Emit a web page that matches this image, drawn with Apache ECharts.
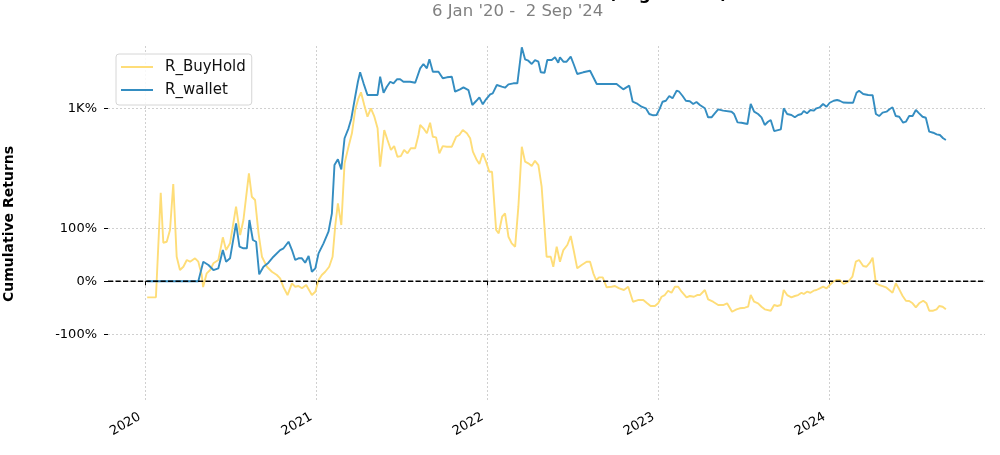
<!DOCTYPE html>
<html><head><meta charset="utf-8">
<script src="https://cdn.jsdelivr.net/npm/echarts@6/dist/echarts.min.js"></script>
<style>html,body{margin:0;padding:0;background:#fff}#c{width:1000px;height:455px}</style>
</head><body><div id="c"></div>
<script>
const titleText = 'Cumulative Returns vs Benchmark (Log Scaled)';
const subtitleText = "6 Jan '20 -  2 Sep '24";
const yAxisName = 'Cumulative Returns';
const yTickPct = [-100, 0, 100, 1000];
const yTickLabels = ['-100%', '0%', '100%', '1K%'];
const yRangePct = [-285, 4534];
const xTickYears = [2020, 2021, 2022, 2023, 2024];
const xRangeYears = [2019.784, 2024.905];
const seriesNames = ['R_BuyHold', 'R_wallet'];

const walletYears = [2020.013,2020.311,2020.340,2020.370,2020.399,2020.428,2020.454,2020.473,2020.496,2020.531,2020.551,2020.574,2020.594,2020.609,2020.629,2020.648,2020.666,2020.691,2020.720,2020.749,2020.788,2020.808,2020.837,2020.857,2020.876,2020.895,2020.915,2020.934,2020.954,2020.973,2020.993,
2021.012,2021.041,2021.070,2021.090,2021.105,2021.125,2021.145,2021.164,2021.187,2021.203,2021.226,2021.242,2021.255,2021.275,2021.298,2021.324,2021.357,2021.372,2021.392,2021.411,2021.431,2021.450,2021.470,2021.489,2021.508,2021.547,2021.577,2021.606,2021.625,2021.645,2021.660,2021.680,2021.713,2021.738,2021.762,2021.791,2021.810,2021.839,2021.859,2021.888,2021.911,2021.933,2021.952,2021.972,2021.991,
2022.015,2022.030,2022.054,2022.083,2022.102,2022.122,2022.151,2022.174,2022.200,2022.219,2022.238,2022.258,2022.277,2022.297,2022.311,2022.333,2022.349,2022.375,2022.394,2022.413,2022.423,2022.443,2022.462,2022.486,2022.505,2022.524,2022.559,2022.599,2022.638,2022.715,2022.754,2022.774,2022.793,2022.828,2022.848,2022.871,2022.900,2022.925,2022.945,2022.968,2022.988,
2023.007,2023.023,2023.042,2023.062,2023.081,2023.105,2023.120,2023.140,2023.159,2023.182,2023.202,2023.221,2023.241,2023.270,2023.289,2023.309,2023.328,2023.348,2023.377,2023.426,2023.441,2023.461,2023.484,2023.519,2023.538,2023.558,2023.581,2023.601,2023.620,2023.639,2023.655,2023.675,2023.714,2023.731,2023.751,2023.776,2023.796,2023.815,2023.835,2023.848,2023.867,2023.887,2023.906,2023.922,2023.942,2023.961,2023.981,
2024.000,2024.023,2024.043,2024.058,2024.078,2024.107,2024.136,2024.156,2024.171,2024.195,2024.224,2024.250,2024.269,2024.288,2024.308,2024.331,2024.350,2024.366,2024.385,2024.405,2024.428,2024.444,2024.463,2024.483,2024.502,2024.521,2024.541,2024.560,2024.580,2024.603,2024.623,2024.642,2024.661,2024.677];
const walletPct = [0,0,37,30.8,21.3,24.5,59,37,43.4,109.4,65.3,62.3,62.3,115.7,77.9,74.7,13.2,27.5,35.1,46.4,59,62.3,74.7,59,40.2,43.4,43.4,35.1,47.7,18.1,24.5,
52.8,71.7,93.6,128.3,256,294,231,489,622,779,1333,1914,2404,1842,1390,1390,1390,2160,1469,1698,1914,1842,2030,2030,1914,1914,1870,2645,2937,2645,3288,2438,2438,2080,2130,2160,1504,1594,1673,1566,1091,1202,1314,1110,1252,
1413,1447,1768,1698,1657,1798,1842,1842,4396,3288,3180,2937,3231,3104,2404,2380,3231,3231,3452,3030,3452,3104,3104,3502,2867,2306,2404,2497,1811,1811,1811,1698,1594,1740,1181,1137,1047,1008,878,851,857,
1008,1181,1210,1357,1282,1541,1504,1357,1210,1194,1118,1174,1091,1008,811,811,893,984,952,929,878,718,712,690,1118,929,878,811,674,729,760,582,607,1008,878,857,811,857,878,944,893,967,952,1008,1033,1118,1047,
1153,1210,1232,1210,1160,1153,1153,1469,1541,1424,1390,1380,878,836,907,929,991,1033,836,822,712,729,836,836,967,893,822,803,573,559,538,529,489,469];

const buyHoldYears = [2020.013,2020.064,2020.092,2020.107,2020.127,2020.146,2020.165,2020.185,2020.204,2020.224,2020.244,2020.263,2020.292,2020.311,2020.331,2020.339,2020.360,2020.380,2020.399,2020.428,2020.454,2020.473,2020.496,2020.531,2020.555,2020.574,2020.590,2020.606,2020.623,2020.642,2020.662,2020.682,2020.711,2020.740,2020.769,2020.788,2020.808,2020.831,2020.857,2020.876,2020.895,2020.915,2020.940,2020.954,2020.973,2020.993,
2021.012,2021.031,2021.051,2021.074,2021.094,2021.109,2021.125,2021.145,2021.164,2021.187,2021.207,2021.226,2021.245,2021.260,2021.279,2021.298,2021.318,2021.337,2021.357,2021.372,2021.396,2021.415,2021.435,2021.454,2021.473,2021.493,2021.512,2021.532,2021.551,2021.577,2021.596,2021.606,2021.625,2021.645,2021.664,2021.680,2021.699,2021.718,2021.738,2021.762,2021.791,2021.816,2021.835,2021.855,2021.879,2021.898,2021.914,2021.937,2021.952,2021.972,2021.991,
2022.010,2022.026,2022.050,2022.065,2022.085,2022.102,2022.122,2022.141,2022.161,2022.180,2022.200,2022.219,2022.238,2022.258,2022.277,2022.297,2022.316,2022.345,2022.369,2022.384,2022.404,2022.423,2022.443,2022.466,2022.486,2022.505,2022.524,2022.550,2022.579,2022.599,2022.618,2022.634,2022.653,2022.673,2022.696,2022.725,2022.745,2022.770,2022.797,2022.822,2022.850,2022.879,2022.910,2022.933,2022.953,2022.978,2022.997,
2023.017,2023.036,2023.055,2023.075,2023.095,2023.114,2023.134,2023.163,2023.182,2023.206,2023.225,2023.241,2023.270,2023.289,2023.318,2023.348,2023.377,2023.400,2023.429,2023.455,2023.474,2023.504,2023.523,2023.538,2023.558,2023.581,2023.601,2023.620,2023.655,2023.675,2023.694,2023.714,2023.731,2023.751,2023.776,2023.796,2023.815,2023.835,2023.848,2023.867,2023.887,2023.906,2023.922,2023.942,2023.961,2023.981,
2024.000,2024.019,2024.039,2024.058,2024.082,2024.107,2024.132,2024.152,2024.171,2024.195,2024.214,2024.234,2024.250,2024.269,2024.288,2024.308,2024.328,2024.347,2024.366,2024.385,2024.405,2024.425,2024.444,2024.463,2024.483,2024.502,2024.521,2024.545,2024.564,2024.580,2024.603,2024.623,2024.638,2024.658,2024.677];
const buyHoldPct = [-30.2,-30.2,167.2,72.8,74.7,96.8,183.6,46.4,21.3,27.5,40.2,37,43.4,37,11.9,-10.8,15.1,21.3,34,40.2,83,59,71.7,140.8,87.4,115.7,159.6,209.8,159.6,153.4,90.6,46.4,27.5,18.1,11.9,5.7,-11.3,-25.9,-3.8,-10.2,-8.9,-13.2,-7,-15.1,-25.9,-19.6,
2.5,11.9,18.1,27.5,46.4,103,147.2,106.2,267,399,551,967,1282,1482,1091,823,1008,836,622,246,597,469,369,405,313,318,369,340,384,384,529,674,622,551,712,507,500,340,405,399,399,507,529,597,551,489,354,289,263,340,278,
218,218,96.8,90.6,121.9,128.3,84.1,71.7,65.3,140.8,399,278,267,250,284,256,178.5,46.4,46.4,27.5,65.3,37,59,68.5,85.5,55.8,24.5,30.8,37,37,15.1,2.5,7.5,7.5,-11.3,-10.2,-8.9,-13.2,-16.4,-10.2,-38.5,-35.3,-35.3,-41.5,-46.6,-46.6,-41.5,
-29.1,-25.9,-17.7,-21.5,-10.2,-10.2,-19.6,-30.2,-27.7,-29.1,-25.9,-25.9,-16.4,-34,-38.5,-44.7,-44.7,-41.5,-57.4,-52.8,-50.9,-49.8,-47.9,-25.9,-38.5,-41.5,-47.9,-52.8,-55.5,-44.7,-46.6,-44.7,-16.4,-25.9,-30.2,-27.7,-25.9,-21.5,-24,-19.6,-21.5,-17.7,-16.4,-13.2,-10.2,-13.2,
-7,-0.8,2.5,2.5,-5.1,-0.8,8.7,37,40.2,28.9,27.5,35.1,44.5,-3.8,-7,-8.9,-11.3,-16.4,-21.5,-3.8,-15.1,-27.7,-36.6,-37.2,-41.5,-49.1,-41.5,-36.6,-41.5,-55.5,-55.5,-52.8,-46.6,-47.9,-52.8];

// symmetric log transform (base 10, linthresh 2 in return units, linscale 1)
function symlog(pct) {
  const x = pct / 100, a = Math.abs(x), adj = 1 / (1 - 0.1);
  const t = a <= 2 ? a * adj : 2 * (adj + Math.log10(a / 2));
  return x < 0 ? -t : t;
}
function toTs(y) {
  const Y = Math.floor(y), a = Date.UTC(Y, 0, 1), b = Date.UTC(Y + 1, 0, 1);
  return a + (y - Y) * (b - a);
}
function pairs(ys, ps) { return ys.map((y, i) => [toTs(y), symlog(ps[i])]); }

const yTickT = yTickPct.map(symlog);
const xTickTs = xTickYears.map(y => Date.UTC(y, 0, 1));
const font = 'DejaVu Sans';
const gridLine = { show: true, lineStyle: { color: '#c4c4c4', type: [2, 2], width: 0.8 } };

const chart = echarts.init(document.getElementById('c'), null, { renderer: 'canvas' });
chart.setOption({
  animation: false,
  backgroundColor: '#fff',
  title: [
    { text: titleText, left: 'center', top: -14, padding: 0,
      textStyle: { fontFamily: font, fontWeight: 'bold', fontSize: 17, color: '#000' } },
    { text: subtitleText, left: 432, top: 3, padding: 0,
      textStyle: { fontFamily: font, fontWeight: 'normal', fontSize: 16.5, color: '#808080' } }
  ],
  legend: {
    data: seriesNames, orient: 'vertical', left: 116, top: 54,
    padding: [4, 6, 6, 5], itemGap: 5, itemWidth: 32, itemHeight: 2, icon: 'rect',
    backgroundColor: 'rgba(255,255,255,0.85)', borderColor: '#d6d6d6', borderWidth: 1, borderRadius: 3,
    itemStyle: { borderWidth: 0 },
    textStyle: { fontFamily: font, fontSize: 15, color: '#111', lineHeight: 18, padding: [0, 0, 0, 7] }
  },
  grid: { left: 108, right: 15, top: 46, bottom: 53, outerBoundsMode: 'none', containLabel: false },
  xAxis: {
    type: 'value', min: toTs(xRangeYears[0]), max: toTs(xRangeYears[1]),
    axisLine: { show: false },
    axisTick: { show: true, length: 4, customValues: xTickTs, lineStyle: { color: '#000', width: 1 } },
    axisLabel: { customValues: xTickTs, rotate: 30, margin: 11, padding: [0, 6, 0, 0],
      formatter: v => String(new Date(v).getUTCFullYear()),
      fontFamily: font, fontSize: 13, color: '#000' },
    splitLine: gridLine
  },
  yAxis: {
    type: 'value', min: symlog(yRangePct[0]), max: symlog(yRangePct[1]),
    axisLine: { show: false },
    axisTick: { show: true, length: 4, customValues: yTickT, lineStyle: { color: '#000', width: 1 } },
    axisLabel: { customValues: yTickT, margin: 11, fontFamily: font, fontSize: 13, color: '#000',
      formatter: v => { let k = 0, d = Infinity; yTickT.forEach((t, i) => { if (Math.abs(t - v) < d) { d = Math.abs(t - v); k = i; } }); return yTickLabels[k]; } },
    splitLine: gridLine,
    name: yAxisName, nameLocation: 'middle', nameGap: 92, nameRotate: 90,
    nameTextStyle: { fontFamily: font, fontWeight: 'bold', fontSize: 14, color: '#000' }
  },
  series: [
    { name: seriesNames[0], type: 'line', data: pairs(buyHoldYears, buyHoldPct), symbol: 'none', showSymbol: false,
      lineStyle: { color: '#fedd78', width: 1.9 }, itemStyle: { color: '#fedd78' }, z: 2, silent: true },
    { name: seriesNames[1], type: 'line', data: pairs(walletYears, walletPct), symbol: 'none', showSymbol: false,
      lineStyle: { color: '#348dc1', width: 1.9 }, itemStyle: { color: '#348dc1' }, z: 3, silent: true },
    { name: 'zero', type: 'line', data: [[toTs(xRangeYears[0]), symlog(0)], [toTs(xRangeYears[1]), symlog(0)]],
      symbol: 'none', showSymbol: false, lineStyle: { color: '#000', width: 1.4, type: [5.2, 2.3] }, z: 4, silent: true }
  ]
});
</script></body></html>
